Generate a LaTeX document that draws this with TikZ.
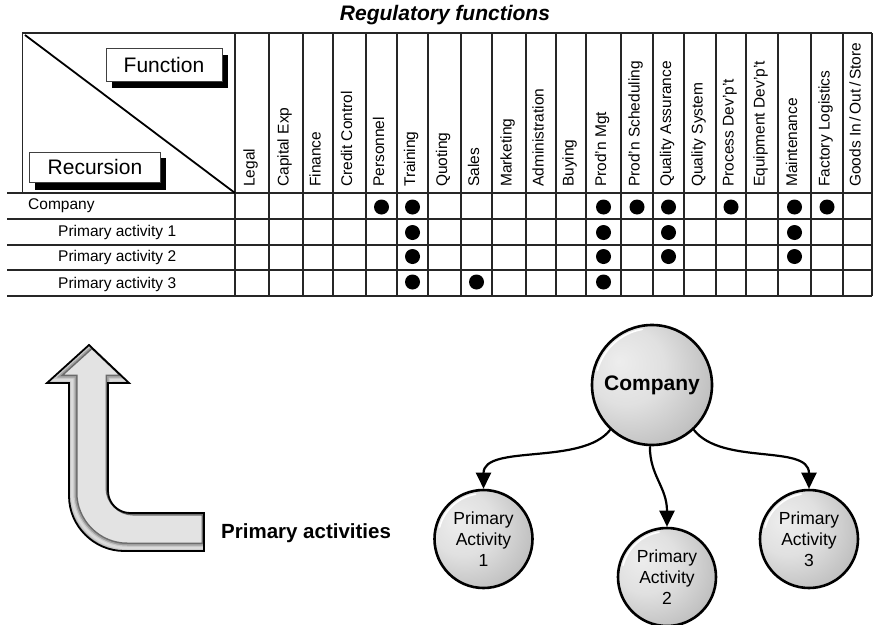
\documentclass[tikz,border=0pt]{standalone}
\usepackage{fontspec}
\setmainfont{Liberation Sans}
\usetikzlibrary{arrows.meta}

% grey disc: light upper-left centre, darkening towards the rim
\pgfdeclareradialshading{beadshade}{\pgfpoint{-14bp}{10bp}}{%
  color(0bp)=(black!7); color(16bp)=(black!12); color(32bp)=(black!24);
  color(46bp)=(black!42); color(56bp)=(black!60); color(70bp)=(black!72)}

\begin{document}
\begin{tikzpicture}[x=1pt,y=-1pt,
  grid/.style={line width=1.2pt, draw=black!85},
  dot/.style={circle, fill=black, inner sep=0pt, minimum size=15pt},
  colhead/.style={rotate=90, anchor=mid west, inner sep=0pt,
    font=\fontsize{15.5}{17}\selectfont},
  rowhead/.style={anchor=west, inner sep=0pt, font=\fontsize{15.5}{18}\selectfont},
  tag/.style={draw=black!75, line width=1pt, fill=white, inner sep=0pt,
    font=\fontsize{21}{24}\selectfont},
  bead/.style={circle, draw=black, line width=2.6pt, shading=beadshade,
    inner sep=0pt, align=center},
  sub/.style={bead, minimum size=98pt, font=\fontsize{17.5}{21}\selectfont},
  rim/.style={white, line width=1.6pt, line cap=round},
  link/.style={line width=2.2pt, -{Triangle[length=16pt, width=15pt]}}
]
\useasboundingbox (0,0) rectangle (873,624);

% ---------- title ----------
\node[font=\fontsize{21}{24}\bfseries\itshape] (title) at (445,15) {Regulatory functions};

% ---------- matrix grid ----------
\draw[grid] (22.7,193) -- (22.7,33) -- (872,33);
\foreach \yy in {193,219,245,270,296}
  \draw[grid] (7,\yy) -- (872,\yy);
\foreach \xx in {235,269,303,333,366,397,428,461,492,526,556,586,621,653,684,716,746,778,811,843,872}
  \draw[grid] (\xx,33) -- (\xx,296);
\draw[line width=1.8pt] (25,35) -- (235,193);

% corner labels with drop shadows
\fill[black] (112,55) rectangle (228,87.5);
\node[tag, minimum width=116pt, minimum height=32.5pt] (fn) at (164,65) {Function};
\fill[black] (35,158) rectangle (166,190);
\node[tag, minimum width=131pt, minimum height=30pt] (rc) at (95,167) {Recursion};

% function headings
\foreach \xc/\name [count=\i] in {252/Legal, 286/Capital Exp, 318/Finance,
    349.5/Credit Control, 381.5/Personnel, 412.5/Training, 444.5/Quoting,
    476.5/Sales, 509/Marketing, 541/Administration, 571/Buying,
    603.5/Prod'n Mgt, 637/Prod'n Scheduling, 668.5/Quality Assurance,
    700/Quality System, 731/Process Dev'p't, 762/Equipment Dev'p't,
    794.5/Maintenance, 827/Factory Logistics}
  \node[colhead] (h\i) at (\xc,187) {\name};
\node[colhead] (h20) at (858,187) {Goods In\,/\,Out\,/\,Store};

% recursion levels
\node[rowhead] (r1) at (28,206) {Company};
\node[rowhead] (r2) at (58,232) {Primary activity 1};
\node[rowhead] (r3) at (58,257) {Primary activity 2};
\node[rowhead] (r4) at (58,284) {Primary activity 3};

% marks
\foreach \xc [count=\i] in {381.5,412.5,603.5,637,668.5,731,794.5,827}
  \node[dot] (a\i) at (\xc,207) {};
\foreach \xc [count=\i] in {412.5,603.5,668.5,794.5}
  \node[dot] (b\i) at (\xc,232.5) {};
\foreach \xc [count=\i] in {412.5,603.5,668.5,794.5}
  \node[dot] (c\i) at (\xc,256.5) {};
\foreach \xc [count=\i] in {412.5,476.5,603.5}
  \node[dot] (e\i) at (\xc,282) {};

% ---------- bent arrow ----------
\def\bendarrow{(89,345) -- (129,383) -- (108,383) -- (108,491)
  .. controls (108,503) and (118,513) .. (130,513) -- (204,513) -- (204,551)
  -- (124,551) .. controls (94,551) and (69,526) .. (69,496) -- (69,383)
  -- (47,383) -- cycle}
\fill[black!11] \bendarrow;
\begin{scope}
  \clip \bendarrow;
  \begin{scope}[shift={(3,-3)}]
    \draw[black!58, line width=11pt, line join=miter] \bendarrow;
    \draw[black!38, line width=8pt, line join=miter] \bendarrow;
    \draw[black!22, line width=5pt, line join=miter] \bendarrow;
    \draw[black!14, line width=2.5pt, line join=miter] \bendarrow;
  \end{scope}
\end{scope}
\draw[black, line width=1.8pt, line join=miter] \bendarrow;
\node[anchor=west, inner sep=0pt, font=\fontsize{20.5}{24}\bfseries] (pa) at (221,533) {Primary activities};

% ---------- company tree ----------
\node[bead, minimum size=120pt, font=\fontsize{21}{24}\bfseries] (co) at (652,385) {Company};
\node[sub] (p1) at (483.5,539) {Primary\\Activity\\1};
\node[sub] (p2) at (667,577) {Primary\\Activity\\2};
\node[sub] (p3) at (809,539) {Primary\\Activity\\3};

% light rim on the upper-left of each disc
\foreach \n/\r in {co/56.5, p1/45.5, p2/45.5, p3/45.5}
  \draw[rim] ([shift={(165:\r pt)}]\n.center) arc[start angle=165, end angle=100, radius=\r pt];

\draw[link] (co.-133) .. controls +(-28,36) and +(0,-45) .. (p1.north);
\draw[link] (co.-92) .. controls +(0,30) and +(0,-40) .. (p2.north);
\draw[link] (co.-47) .. controls +(28,36) and +(0,-45) .. (p3.north);
\end{tikzpicture}
\end{document}
